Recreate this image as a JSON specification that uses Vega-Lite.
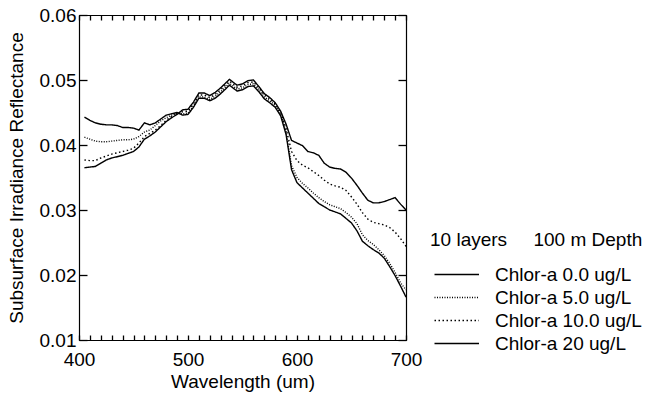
{
  "$schema": "https://vega.github.io/schema/vega-lite/v6.json",
  "autosize": {"type": "none"},
  "padding": {"left": 79, "top": 15, "right": 239, "bottom": 56},
  "width": 327,
  "height": 325,
  "background": "white",
  "config": {
    "font": "Liberation Sans",
    "view": {"stroke": "black", "strokeWidth": 1},
    "axis": {"domainColor": "black", "tickColor": "black", "tickOpacity": 1, "labelColor": "black", "titleColor": "black", "grid": false, "labelFont": "Liberation Sans", "titleFont": "Liberation Sans", "labelFontSize": 19, "titleFontSize": 19, "titleFontWeight": "normal", "domainWidth": 1.2, "tickWidth": 1.3}
  },
  "data": {"values": [
    {"s":"Chlor-a 0.0 ug/L","w":405,"r":0.0443},{"s":"Chlor-a 0.0 ug/L","w":410,"r":0.0438},{"s":"Chlor-a 0.0 ug/L","w":415,"r":0.0434},{"s":"Chlor-a 0.0 ug/L","w":420,"r":0.0432},{"s":"Chlor-a 0.0 ug/L","w":425,"r":0.0431},{"s":"Chlor-a 0.0 ug/L","w":430,"r":0.0431},{"s":"Chlor-a 0.0 ug/L","w":435,"r":0.0430},{"s":"Chlor-a 0.0 ug/L","w":440,"r":0.0427},{"s":"Chlor-a 0.0 ug/L","w":445,"r":0.0427},{"s":"Chlor-a 0.0 ug/L","w":450,"r":0.0426},{"s":"Chlor-a 0.0 ug/L","w":455,"r":0.0423},{"s":"Chlor-a 0.0 ug/L","w":460,"r":0.0434},{"s":"Chlor-a 0.0 ug/L","w":465,"r":0.0431},{"s":"Chlor-a 0.0 ug/L","w":470,"r":0.0434},{"s":"Chlor-a 0.0 ug/L","w":475,"r":0.0440},{"s":"Chlor-a 0.0 ug/L","w":480,"r":0.0446},{"s":"Chlor-a 0.0 ug/L","w":485,"r":0.0448},{"s":"Chlor-a 0.0 ug/L","w":490,"r":0.0450},{"s":"Chlor-a 0.0 ug/L","w":495,"r":0.0446},{"s":"Chlor-a 0.0 ug/L","w":500,"r":0.0447},{"s":"Chlor-a 0.0 ug/L","w":505,"r":0.0458},{"s":"Chlor-a 0.0 ug/L","w":510,"r":0.0472},{"s":"Chlor-a 0.0 ug/L","w":515,"r":0.0472},{"s":"Chlor-a 0.0 ug/L","w":520,"r":0.0468},{"s":"Chlor-a 0.0 ug/L","w":525,"r":0.0472},{"s":"Chlor-a 0.0 ug/L","w":530,"r":0.0479},{"s":"Chlor-a 0.0 ug/L","w":535,"r":0.0487},{"s":"Chlor-a 0.0 ug/L","w":538,"r":0.0492},{"s":"Chlor-a 0.0 ug/L","w":545,"r":0.0483},{"s":"Chlor-a 0.0 ug/L","w":550,"r":0.0485},{"s":"Chlor-a 0.0 ug/L","w":555,"r":0.0490},{"s":"Chlor-a 0.0 ug/L","w":560,"r":0.0491},{"s":"Chlor-a 0.0 ug/L","w":565,"r":0.0482},{"s":"Chlor-a 0.0 ug/L","w":570,"r":0.0471},{"s":"Chlor-a 0.0 ug/L","w":575,"r":0.0465},{"s":"Chlor-a 0.0 ug/L","w":580,"r":0.0458},{"s":"Chlor-a 0.0 ug/L","w":585,"r":0.0445},{"s":"Chlor-a 0.0 ug/L","w":590,"r":0.0416},{"s":"Chlor-a 0.0 ug/L","w":595,"r":0.0362},{"s":"Chlor-a 0.0 ug/L","w":600,"r":0.0342},{"s":"Chlor-a 0.0 ug/L","w":605,"r":0.0334},{"s":"Chlor-a 0.0 ug/L","w":610,"r":0.0326},{"s":"Chlor-a 0.0 ug/L","w":615,"r":0.0318},{"s":"Chlor-a 0.0 ug/L","w":620,"r":0.0310},{"s":"Chlor-a 0.0 ug/L","w":625,"r":0.0305},{"s":"Chlor-a 0.0 ug/L","w":630,"r":0.0300},{"s":"Chlor-a 0.0 ug/L","w":635,"r":0.0297},{"s":"Chlor-a 0.0 ug/L","w":640,"r":0.0294},{"s":"Chlor-a 0.0 ug/L","w":645,"r":0.0287},{"s":"Chlor-a 0.0 ug/L","w":650,"r":0.0280},{"s":"Chlor-a 0.0 ug/L","w":655,"r":0.0268},{"s":"Chlor-a 0.0 ug/L","w":660,"r":0.0252},{"s":"Chlor-a 0.0 ug/L","w":665,"r":0.0245},{"s":"Chlor-a 0.0 ug/L","w":670,"r":0.0239},{"s":"Chlor-a 0.0 ug/L","w":675,"r":0.0234},{"s":"Chlor-a 0.0 ug/L","w":680,"r":0.0226},{"s":"Chlor-a 0.0 ug/L","w":685,"r":0.0213},{"s":"Chlor-a 0.0 ug/L","w":690,"r":0.0199},{"s":"Chlor-a 0.0 ug/L","w":695,"r":0.0183},{"s":"Chlor-a 0.0 ug/L","w":700,"r":0.0166},

    {"s":"Chlor-a 5.0 ug/L","w":405,"r":0.0412},{"s":"Chlor-a 5.0 ug/L","w":410,"r":0.0409},{"s":"Chlor-a 5.0 ug/L","w":415,"r":0.0406},{"s":"Chlor-a 5.0 ug/L","w":420,"r":0.0405},{"s":"Chlor-a 5.0 ug/L","w":425,"r":0.0405},{"s":"Chlor-a 5.0 ug/L","w":430,"r":0.0406},{"s":"Chlor-a 5.0 ug/L","w":435,"r":0.0407},{"s":"Chlor-a 5.0 ug/L","w":440,"r":0.0408},{"s":"Chlor-a 5.0 ug/L","w":445,"r":0.0408},{"s":"Chlor-a 5.0 ug/L","w":450,"r":0.0409},{"s":"Chlor-a 5.0 ug/L","w":455,"r":0.0413},{"s":"Chlor-a 5.0 ug/L","w":460,"r":0.0420},{"s":"Chlor-a 5.0 ug/L","w":465,"r":0.0423},{"s":"Chlor-a 5.0 ug/L","w":470,"r":0.0430},{"s":"Chlor-a 5.0 ug/L","w":475,"r":0.0437},{"s":"Chlor-a 5.0 ug/L","w":480,"r":0.0442},{"s":"Chlor-a 5.0 ug/L","w":485,"r":0.0446},{"s":"Chlor-a 5.0 ug/L","w":490,"r":0.0449},{"s":"Chlor-a 5.0 ug/L","w":495,"r":0.0448},{"s":"Chlor-a 5.0 ug/L","w":500,"r":0.0449},{"s":"Chlor-a 5.0 ug/L","w":505,"r":0.0460},{"s":"Chlor-a 5.0 ug/L","w":510,"r":0.0474},{"s":"Chlor-a 5.0 ug/L","w":515,"r":0.0474},{"s":"Chlor-a 5.0 ug/L","w":520,"r":0.0470},{"s":"Chlor-a 5.0 ug/L","w":525,"r":0.0475},{"s":"Chlor-a 5.0 ug/L","w":530,"r":0.0482},{"s":"Chlor-a 5.0 ug/L","w":535,"r":0.0490},{"s":"Chlor-a 5.0 ug/L","w":538,"r":0.0495},{"s":"Chlor-a 5.0 ug/L","w":545,"r":0.0486},{"s":"Chlor-a 5.0 ug/L","w":550,"r":0.0488},{"s":"Chlor-a 5.0 ug/L","w":555,"r":0.0493},{"s":"Chlor-a 5.0 ug/L","w":560,"r":0.0494},{"s":"Chlor-a 5.0 ug/L","w":565,"r":0.0485},{"s":"Chlor-a 5.0 ug/L","w":570,"r":0.0474},{"s":"Chlor-a 5.0 ug/L","w":575,"r":0.0468},{"s":"Chlor-a 5.0 ug/L","w":580,"r":0.0461},{"s":"Chlor-a 5.0 ug/L","w":585,"r":0.0448},{"s":"Chlor-a 5.0 ug/L","w":590,"r":0.0420},{"s":"Chlor-a 5.0 ug/L","w":595,"r":0.0368},{"s":"Chlor-a 5.0 ug/L","w":600,"r":0.0350},{"s":"Chlor-a 5.0 ug/L","w":605,"r":0.0341},{"s":"Chlor-a 5.0 ug/L","w":610,"r":0.0334},{"s":"Chlor-a 5.0 ug/L","w":615,"r":0.0326},{"s":"Chlor-a 5.0 ug/L","w":620,"r":0.0319},{"s":"Chlor-a 5.0 ug/L","w":625,"r":0.0313},{"s":"Chlor-a 5.0 ug/L","w":630,"r":0.0308},{"s":"Chlor-a 5.0 ug/L","w":635,"r":0.0305},{"s":"Chlor-a 5.0 ug/L","w":640,"r":0.0302},{"s":"Chlor-a 5.0 ug/L","w":645,"r":0.0296},{"s":"Chlor-a 5.0 ug/L","w":650,"r":0.0289},{"s":"Chlor-a 5.0 ug/L","w":655,"r":0.0279},{"s":"Chlor-a 5.0 ug/L","w":660,"r":0.0262},{"s":"Chlor-a 5.0 ug/L","w":665,"r":0.0253},{"s":"Chlor-a 5.0 ug/L","w":670,"r":0.0247},{"s":"Chlor-a 5.0 ug/L","w":675,"r":0.0239},{"s":"Chlor-a 5.0 ug/L","w":680,"r":0.0230},{"s":"Chlor-a 5.0 ug/L","w":685,"r":0.0218},{"s":"Chlor-a 5.0 ug/L","w":690,"r":0.0204},{"s":"Chlor-a 5.0 ug/L","w":695,"r":0.0188},{"s":"Chlor-a 5.0 ug/L","w":700,"r":0.0177},

    {"s":"Chlor-a 10.0 ug/L","w":405,"r":0.0377},{"s":"Chlor-a 10.0 ug/L","w":410,"r":0.0376},{"s":"Chlor-a 10.0 ug/L","w":415,"r":0.0376},{"s":"Chlor-a 10.0 ug/L","w":420,"r":0.0380},{"s":"Chlor-a 10.0 ug/L","w":425,"r":0.0383},{"s":"Chlor-a 10.0 ug/L","w":430,"r":0.0386},{"s":"Chlor-a 10.0 ug/L","w":435,"r":0.0388},{"s":"Chlor-a 10.0 ug/L","w":440,"r":0.0390},{"s":"Chlor-a 10.0 ug/L","w":445,"r":0.0392},{"s":"Chlor-a 10.0 ug/L","w":450,"r":0.0395},{"s":"Chlor-a 10.0 ug/L","w":455,"r":0.0403},{"s":"Chlor-a 10.0 ug/L","w":460,"r":0.0413},{"s":"Chlor-a 10.0 ug/L","w":465,"r":0.0418},{"s":"Chlor-a 10.0 ug/L","w":470,"r":0.0423},{"s":"Chlor-a 10.0 ug/L","w":475,"r":0.0430},{"s":"Chlor-a 10.0 ug/L","w":480,"r":0.0438},{"s":"Chlor-a 10.0 ug/L","w":485,"r":0.0444},{"s":"Chlor-a 10.0 ug/L","w":490,"r":0.0448},{"s":"Chlor-a 10.0 ug/L","w":495,"r":0.0451},{"s":"Chlor-a 10.0 ug/L","w":500,"r":0.0452},{"s":"Chlor-a 10.0 ug/L","w":505,"r":0.0463},{"s":"Chlor-a 10.0 ug/L","w":510,"r":0.0477},{"s":"Chlor-a 10.0 ug/L","w":515,"r":0.0477},{"s":"Chlor-a 10.0 ug/L","w":520,"r":0.0473},{"s":"Chlor-a 10.0 ug/L","w":525,"r":0.0478},{"s":"Chlor-a 10.0 ug/L","w":530,"r":0.0485},{"s":"Chlor-a 10.0 ug/L","w":535,"r":0.0493},{"s":"Chlor-a 10.0 ug/L","w":538,"r":0.0498},{"s":"Chlor-a 10.0 ug/L","w":545,"r":0.0489},{"s":"Chlor-a 10.0 ug/L","w":550,"r":0.0491},{"s":"Chlor-a 10.0 ug/L","w":555,"r":0.0496},{"s":"Chlor-a 10.0 ug/L","w":560,"r":0.0497},{"s":"Chlor-a 10.0 ug/L","w":565,"r":0.0488},{"s":"Chlor-a 10.0 ug/L","w":570,"r":0.0477},{"s":"Chlor-a 10.0 ug/L","w":575,"r":0.0471},{"s":"Chlor-a 10.0 ug/L","w":580,"r":0.0463},{"s":"Chlor-a 10.0 ug/L","w":585,"r":0.0450},{"s":"Chlor-a 10.0 ug/L","w":590,"r":0.0425},{"s":"Chlor-a 10.0 ug/L","w":595,"r":0.0390},{"s":"Chlor-a 10.0 ug/L","w":600,"r":0.0376},{"s":"Chlor-a 10.0 ug/L","w":605,"r":0.0369},{"s":"Chlor-a 10.0 ug/L","w":610,"r":0.0365},{"s":"Chlor-a 10.0 ug/L","w":615,"r":0.0359},{"s":"Chlor-a 10.0 ug/L","w":620,"r":0.0353},{"s":"Chlor-a 10.0 ug/L","w":625,"r":0.0346},{"s":"Chlor-a 10.0 ug/L","w":630,"r":0.0340},{"s":"Chlor-a 10.0 ug/L","w":635,"r":0.0337},{"s":"Chlor-a 10.0 ug/L","w":640,"r":0.0335},{"s":"Chlor-a 10.0 ug/L","w":645,"r":0.0330},{"s":"Chlor-a 10.0 ug/L","w":650,"r":0.0320},{"s":"Chlor-a 10.0 ug/L","w":655,"r":0.0309},{"s":"Chlor-a 10.0 ug/L","w":660,"r":0.0296},{"s":"Chlor-a 10.0 ug/L","w":665,"r":0.0286},{"s":"Chlor-a 10.0 ug/L","w":670,"r":0.0281},{"s":"Chlor-a 10.0 ug/L","w":675,"r":0.0279},{"s":"Chlor-a 10.0 ug/L","w":680,"r":0.0277},{"s":"Chlor-a 10.0 ug/L","w":685,"r":0.0273},{"s":"Chlor-a 10.0 ug/L","w":690,"r":0.0266},{"s":"Chlor-a 10.0 ug/L","w":695,"r":0.0256},{"s":"Chlor-a 10.0 ug/L","w":700,"r":0.0244},

    {"s":"Chlor-a 20 ug/L","w":405,"r":0.0365},{"s":"Chlor-a 20 ug/L","w":410,"r":0.0366},{"s":"Chlor-a 20 ug/L","w":415,"r":0.0367},{"s":"Chlor-a 20 ug/L","w":420,"r":0.0372},{"s":"Chlor-a 20 ug/L","w":425,"r":0.0377},{"s":"Chlor-a 20 ug/L","w":430,"r":0.0380},{"s":"Chlor-a 20 ug/L","w":435,"r":0.0382},{"s":"Chlor-a 20 ug/L","w":440,"r":0.0384},{"s":"Chlor-a 20 ug/L","w":445,"r":0.0387},{"s":"Chlor-a 20 ug/L","w":450,"r":0.0390},{"s":"Chlor-a 20 ug/L","w":455,"r":0.0397},{"s":"Chlor-a 20 ug/L","w":460,"r":0.0409},{"s":"Chlor-a 20 ug/L","w":465,"r":0.0414},{"s":"Chlor-a 20 ug/L","w":470,"r":0.0420},{"s":"Chlor-a 20 ug/L","w":475,"r":0.0428},{"s":"Chlor-a 20 ug/L","w":480,"r":0.0436},{"s":"Chlor-a 20 ug/L","w":485,"r":0.0442},{"s":"Chlor-a 20 ug/L","w":490,"r":0.0447},{"s":"Chlor-a 20 ug/L","w":495,"r":0.0454},{"s":"Chlor-a 20 ug/L","w":500,"r":0.0455},{"s":"Chlor-a 20 ug/L","w":505,"r":0.0466},{"s":"Chlor-a 20 ug/L","w":510,"r":0.0480},{"s":"Chlor-a 20 ug/L","w":515,"r":0.0480},{"s":"Chlor-a 20 ug/L","w":520,"r":0.0476},{"s":"Chlor-a 20 ug/L","w":525,"r":0.0481},{"s":"Chlor-a 20 ug/L","w":530,"r":0.0488},{"s":"Chlor-a 20 ug/L","w":535,"r":0.0496},{"s":"Chlor-a 20 ug/L","w":538,"r":0.0501},{"s":"Chlor-a 20 ug/L","w":545,"r":0.0492},{"s":"Chlor-a 20 ug/L","w":550,"r":0.0494},{"s":"Chlor-a 20 ug/L","w":555,"r":0.0499},{"s":"Chlor-a 20 ug/L","w":560,"r":0.0500},{"s":"Chlor-a 20 ug/L","w":565,"r":0.0490},{"s":"Chlor-a 20 ug/L","w":570,"r":0.0479},{"s":"Chlor-a 20 ug/L","w":575,"r":0.0473},{"s":"Chlor-a 20 ug/L","w":580,"r":0.0465},{"s":"Chlor-a 20 ug/L","w":585,"r":0.0452},{"s":"Chlor-a 20 ug/L","w":590,"r":0.0432},{"s":"Chlor-a 20 ug/L","w":595,"r":0.0407},{"s":"Chlor-a 20 ug/L","w":600,"r":0.0403},{"s":"Chlor-a 20 ug/L","w":605,"r":0.0399},{"s":"Chlor-a 20 ug/L","w":610,"r":0.0390},{"s":"Chlor-a 20 ug/L","w":615,"r":0.0388},{"s":"Chlor-a 20 ug/L","w":620,"r":0.0384},{"s":"Chlor-a 20 ug/L","w":625,"r":0.0372},{"s":"Chlor-a 20 ug/L","w":630,"r":0.0366},{"s":"Chlor-a 20 ug/L","w":635,"r":0.0364},{"s":"Chlor-a 20 ug/L","w":640,"r":0.0363},{"s":"Chlor-a 20 ug/L","w":645,"r":0.0358},{"s":"Chlor-a 20 ug/L","w":650,"r":0.0349},{"s":"Chlor-a 20 ug/L","w":655,"r":0.0338},{"s":"Chlor-a 20 ug/L","w":660,"r":0.0326},{"s":"Chlor-a 20 ug/L","w":665,"r":0.0315},{"s":"Chlor-a 20 ug/L","w":670,"r":0.0311},{"s":"Chlor-a 20 ug/L","w":675,"r":0.0311},{"s":"Chlor-a 20 ug/L","w":680,"r":0.0313},{"s":"Chlor-a 20 ug/L","w":685,"r":0.0316},{"s":"Chlor-a 20 ug/L","w":690,"r":0.0319},{"s":"Chlor-a 20 ug/L","w":695,"r":0.0309},{"s":"Chlor-a 20 ug/L","w":700,"r":0.0300}
  ]},
  "layer": [
    {
      "mark": {"type": "line", "color": "black", "strokeWidth": 1.4},
      "encoding": {
        "x": {"field": "w", "type": "quantitative", "scale": {"domain": [400, 700], "nice": false, "zero": false},
          "axis": {"orient": "bottom", "title": "Wavelength (um)", "values": [400,500,600,700], "format": "d", "ticks": false, "labelPadding": 10, "labelFlush": false, "labelOverlap": false, "titleY": 32, "titleBaseline": "top"}},
        "y": {"field": "r", "type": "quantitative", "scale": {"domain": [0.01, 0.06], "nice": false, "zero": false},
          "axis": {"orient": "left", "title": "Subsurface Irradiance Reflectance", "values": [0.01,0.02,0.03,0.04,0.05,0.06], "format": ".2f", "ticks": false, "labelPadding": 3, "labelFlush": false, "labelOverlap": false, "titleX": -53}},
        "strokeDash": {"field": "s", "type": "nominal",
          "scale": {"domain": ["Chlor-a 0.0 ug/L","Chlor-a 5.0 ug/L","Chlor-a 10.0 ug/L","Chlor-a 20 ug/L"], "range": [[1,0],[1,1.5],[1.5,2.5],[1,0]]},
          "legend": {"orient": "none", "legendX": 351, "legendY": 216, "padding": 0, "title": "10 layers\u00a0\u00a0\u00a0\u00a0 100 m Depth", "titleFontSize": 19, "titleFontWeight": "normal", "titleColor": "black", "titleFont": "Liberation Sans", "titlePadding": 15, "titleLimit": 400, "labelFontSize": 19, "labelFont": "Liberation Sans", "labelColor": "black", "labelLimit": 400, "symbolType": "M-1,0H7.9", "symbolSize": 100, "symbolStrokeWidth": 1.3, "symbolStrokeColor": "black", "labelOffset": 46, "rowPadding": 3}}
      }
    },
    {
      "mark": {"type": "line", "opacity": 0},
      "encoding": {
        "x": {"field": "w", "type": "quantitative", "scale": {"domain": [400, 700], "nice": false, "zero": false},
          "axis": {"orient": "top", "title": null, "labels": false, "ticks": false}},
        "y": {"field": "r", "type": "quantitative", "scale": {"domain": [0.01, 0.06], "nice": false, "zero": false},
          "axis": {"orient": "right", "title": null, "labels": false, "ticks": false}},
        "detail": {"field": "s"}
      }
    },
    {
      "mark": {"type": "line", "opacity": 0},
      "encoding": {
        "x": {"field": "w", "type": "quantitative", "scale": {"domain": [400, 700], "nice": false, "zero": false},
          "axis": {"orient": "bottom", "title": null, "labels": false, "domain": false, "ticks": true, "tickSize": 5, "offset": -5, "values": [400,410,420,430,440,450,460,470,480,490,500,510,520,530,540,550,560,570,580,590,600,610,620,630,640,650,660,670,680,690,700]}},
        "y": {"field": "r", "type": "quantitative", "scale": {"domain": [0.01, 0.06], "nice": false, "zero": false},
          "axis": {"orient": "left", "title": null, "labels": false, "domain": false, "ticks": true, "tickSize": 8, "offset": -8, "values": [0.01,0.02,0.03,0.04,0.05,0.06]}},
        "detail": {"field": "s"}
      }
    },
    {
      "mark": {"type": "line", "opacity": 0},
      "encoding": {
        "x": {"field": "w", "type": "quantitative", "scale": {"domain": [400, 700], "nice": false, "zero": false},
          "axis": {"orient": "top", "title": null, "labels": false, "domain": false, "ticks": true, "tickSize": 5, "offset": -5, "values": [400,410,420,430,440,450,460,470,480,490,500,510,520,530,540,550,560,570,580,590,600,610,620,630,640,650,660,670,680,690,700]}},
        "y": {"field": "r", "type": "quantitative", "scale": {"domain": [0.01, 0.06], "nice": false, "zero": false},
          "axis": {"orient": "right", "title": null, "labels": false, "domain": false, "ticks": true, "tickSize": 8, "offset": -8, "values": [0.01,0.02,0.03,0.04,0.05,0.06]}},
        "detail": {"field": "s"}
      }
    }
  ],
  "resolve": {"axis": {"x": "independent", "y": "independent"}}
}
